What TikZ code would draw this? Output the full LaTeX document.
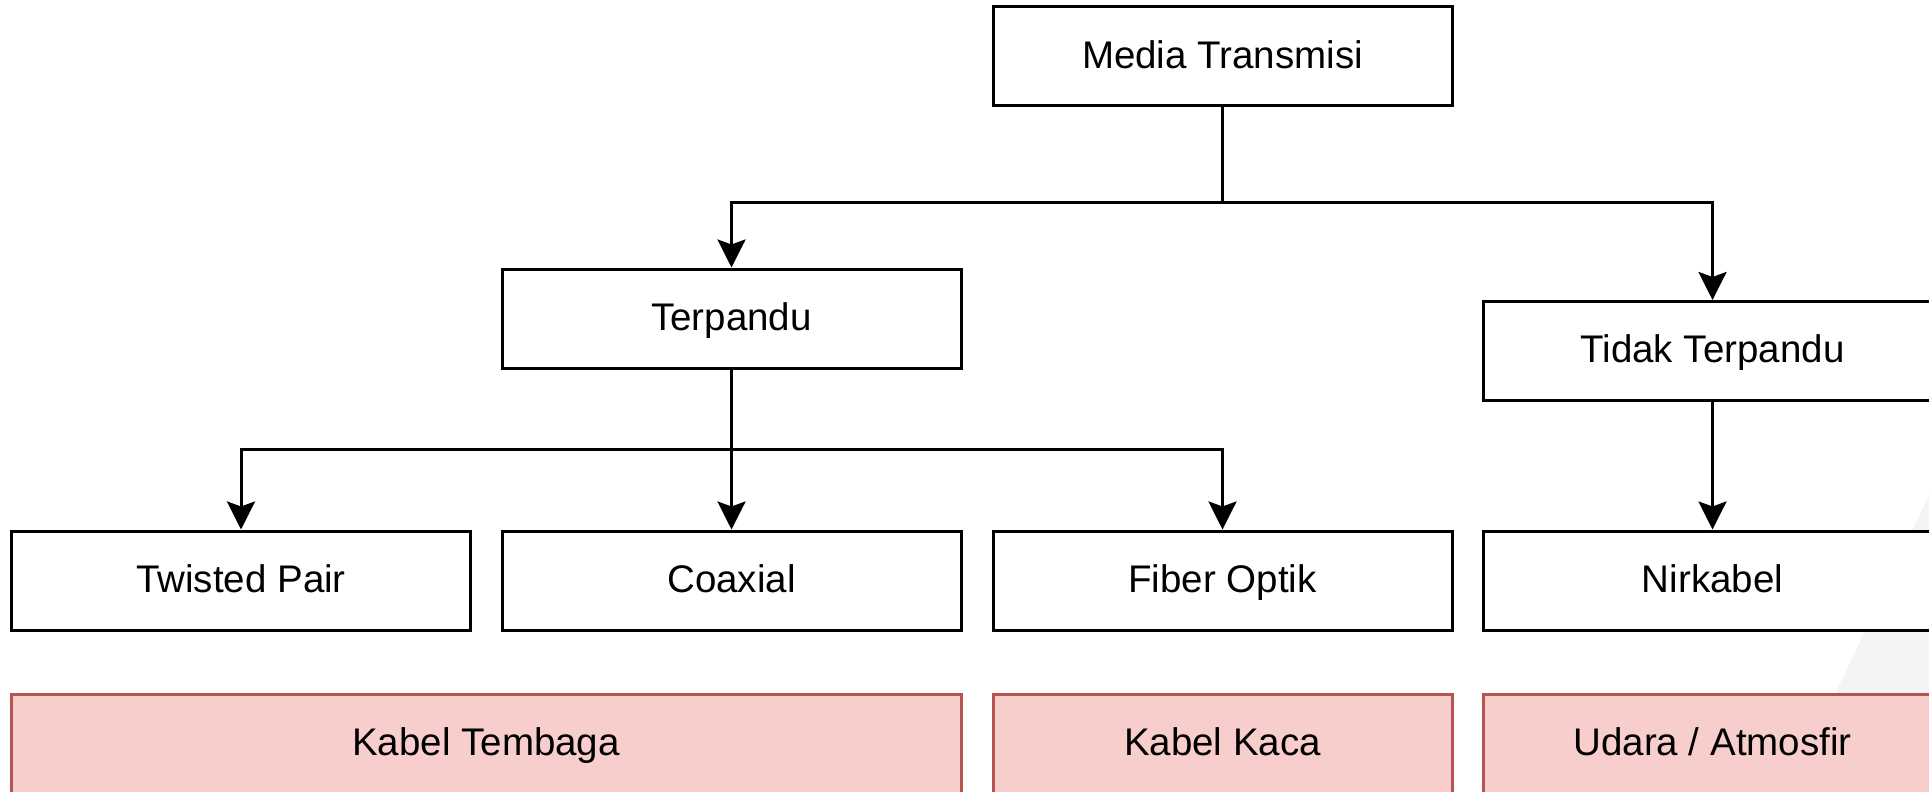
\documentclass[tikz,border=0pt]{standalone}
\usepackage{fontspec}
\setmainfont{Liberation Sans}
\usetikzlibrary{arrows.meta}
\definecolor{redfill}{HTML}{F8CECC}
\definecolor{redline}{HTML}{B85450}
\definecolor{wmgrey}{HTML}{F3F4F6}
\begin{document}
\begin{tikzpicture}[x=0.5pt,y=-0.5pt,
  box/.style={draw=black, fill=white, line width=1.5pt, minimum width=229.5pt, minimum height=49.5pt, inner sep=0pt,
    font=\fontsize{19.25}{23}\selectfont, text height=15.4pt, text depth=3.85pt},
  redbox/.style={box, draw=redline, fill=redfill},
  conn/.style={line width=1.5pt, -{Stealth[length=14pt,width=14pt,inset=2.5pt]}}
]
\useasboundingbox (0,0) rectangle (1929,792);
\clip (0,0) rectangle (1929,792);
\fill[wmgrey] (1929,495) -- (1789,792) -- (1929,792) -- cycle;

\node[box] (media) at (1222.5,56.5) {Media Transmisi};
\node[box] (terp) at (731.5,318.5) {Terpandu};
\node[box] (tidak) at (1712.5,351) {Tidak Terpandu};
\node[box] (tp) at (241,580.5) {Twisted Pair};
\node[box] (coax) at (731.5,580.5) {Coaxial};
\node[box] (fiber) at (1222.5,580.5) {Fiber Optik};
\node[box] (nirk) at (1712.5,580.5) {Nirkabel};
\node[redbox, minimum width=475pt] (tembaga) at (486,743.5) {Kabel Tembaga};
\node[redbox] (kaca) at (1222.5,743.5) {Kabel Kaca};
\node[redbox] (udara) at (1712.5,743.5) {Udara / Atmosfir};

\coordinate (j1) at (1222.5,203);
\coordinate (j2) at (731.5,449);

\draw[conn] (media.south) -- (j1) -| (terp.north);
\draw[conn] (media.south) -- (j1) -| (tidak.north);
\draw[conn] (terp.south) -- (j2) -| (tp.north);
\draw[conn] (terp.south) -- (coax.north);
\draw[conn] (terp.south) -- (j2) -| (fiber.north);
\draw[conn] (tidak.south) -- (nirk.north);
\end{tikzpicture}
\end{document}
